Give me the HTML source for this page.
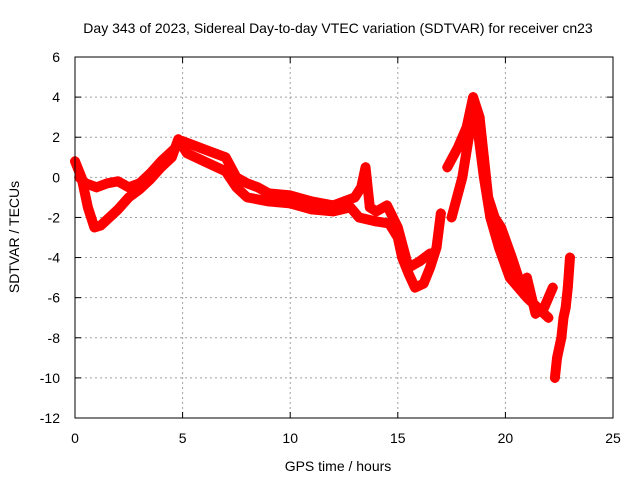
<!DOCTYPE html>
<html><head><meta charset="utf-8"><style>
body{margin:0;background:#fff}
svg text{font-family:"Liberation Sans",sans-serif;font-size:14px;fill:#000}
</style></head><body>
<svg id="chart" width="640" height="480">
<text x="338" y="33" text-anchor="middle">Day 343 of 2023, Sidereal Day-to-day VTEC variation (SDTVAR) for receiver cn23</text>
<text x="338" y="471" text-anchor="middle">GPS time / hours</text>
<text transform="translate(19,237) rotate(-90)" text-anchor="middle">SDTVAR / TECUs</text>
<g id="grid"></g>
<g id="ticks"></g>
<g id="marks"></g>
<rect x="75" y="57" width="538" height="361" fill="none" stroke="#000" stroke-width="1"/>
</svg>
<script>
const xTicks=[0,5,10,15,20,25];
const yTicks=[6,4,2,0,-2,-4,-6,-8,-10,-12];
const s1Hours=[0,0.3,0.6,0.9,1.2,1.6,2,2.5,3,3.5,4,4.5,4.8,5.2,6,7,7.5,8,9,10,11,12,12.8,13.2,14,14.6,15,15.2,15.5,15.8,16.2,16.5,16.8,17];
const s1Vals=[0.8,0,-1.5,-2.5,-2.4,-2,-1.6,-1,-0.6,-0.1,0.5,1,1.9,1.2,0.8,0.3,-0.5,-1,-1.2,-1.3,-1.6,-1.7,-1.5,-2,-2.2,-2.3,-3,-4,-4.8,-5.5,-5.3,-4.5,-3.5,-1.8];
const s2Hours=[0.2,0.5,1,1.5,2,2.5,3,3.5,4,4.5,5,5.5,6,6.5,7,7.5,8,8.5,9,10,11,12,12.5,13,13.3,13.5,13.7,14,14.5,15,15.5,16,16.5];
const s2Vals=[0,-0.3,-0.5,-0.3,-0.2,-0.5,-0.3,0.2,0.8,1.3,1.8,1.6,1.4,1.2,1,0,-0.3,-0.5,-0.8,-0.9,-1.2,-1.4,-1.2,-1,-0.5,0.5,-1.5,-1.7,-1.4,-2.5,-4.5,-4.2,-3.8];
const s3Hours=[17.5,18,18.3,18.5,18.7,19,19.3,19.7,20.2,20.6,21,21.5,22];
const s3Vals=[-2,0,2,3,2.5,0,-2,-3.5,-5,-5.5,-6,-6.5,-7];
const s4Hours=[17.3,17.8,18.2,18.5,18.8,19,19.2,19.5,19.8,20.3,20.7,21,21.4,21.8,22.2];
const s4Vals=[0.5,1.5,2.5,4,3,1,-1,-2,-2.5,-4,-5.3,-5,-6.8,-6.5,-5.5];
const s5Hours=[22.3,22.4,22.6,22.7,22.8,22.9,23];
const s5Vals=[-10,-9,-8,-7,-6.5,-5.5,-4];
const X=h=>75+h*538/25, Y=v=>57+(6-v)*361/18;
const NS="http://www.w3.org/2000/svg";
const grid=document.getElementById('grid'),ticks=document.getElementById('ticks'),marks=document.getElementById('marks');
function mk(tag,attrs,parent){const e=document.createElementNS(NS,tag);for(const k in attrs)e.setAttribute(k,attrs[k]);parent.appendChild(e);return e;}
xTicks.forEach(t=>{const x=X(t);
 if(t>0&&t<25){const g=mk('line',{x1:x,x2:x,y1:57,y2:418,stroke:'#a0a0a0','stroke-dasharray':'2,3'},grid);
 
 }
 mk('line',{x1:x,x2:x,y1:418,y2:412,stroke:'#000'},ticks);mk('line',{x1:x,x2:x,y1:57,y2:63,stroke:'#000'},ticks);
 const l=mk('text',{x:x,y:443,'text-anchor':'middle'},ticks);l.textContent=t;
 
 });
yTicks.forEach(t=>{const y=Y(t);
 if(t<6&&t>-12){const g=mk('line',{x1:75,x2:613,y1:y,y2:y,stroke:'#a0a0a0','stroke-dasharray':'2,3'},grid);
 
 }
 mk('line',{x1:75,x2:81,y1:y,y2:y,stroke:'#000'},ticks);mk('line',{x1:613,x2:607,y1:y,y2:y,stroke:'#000'},ticks);
 const l=mk('text',{x:60,y:y+5,'text-anchor':'end'},ticks);l.textContent=t;
 
 });
[[s1Hours,s1Vals],[s2Hours,s2Vals],[s3Hours,s3Vals],[s4Hours,s4Vals],[s5Hours,s5Vals]].forEach(([hs,vs],i)=>{
 const p=mk('polyline',{points:hs.map((h,j)=>X(h)+','+Y(vs[j])).join(' '),fill:'none',stroke:'#f00','stroke-width':10,'stroke-linejoin':'round','stroke-linecap':'round'},marks);
 
 
 hs.forEach((h,j)=>{const x=X(h),y=Y(vs[j]);
  const m=mk('path',{d:`M${x-5},${y}H${x+5}M${x},${y-5}V${y+5}`,stroke:'#f00','stroke-width':1.5},marks);
  
  });
});
</script>
</body></html>
